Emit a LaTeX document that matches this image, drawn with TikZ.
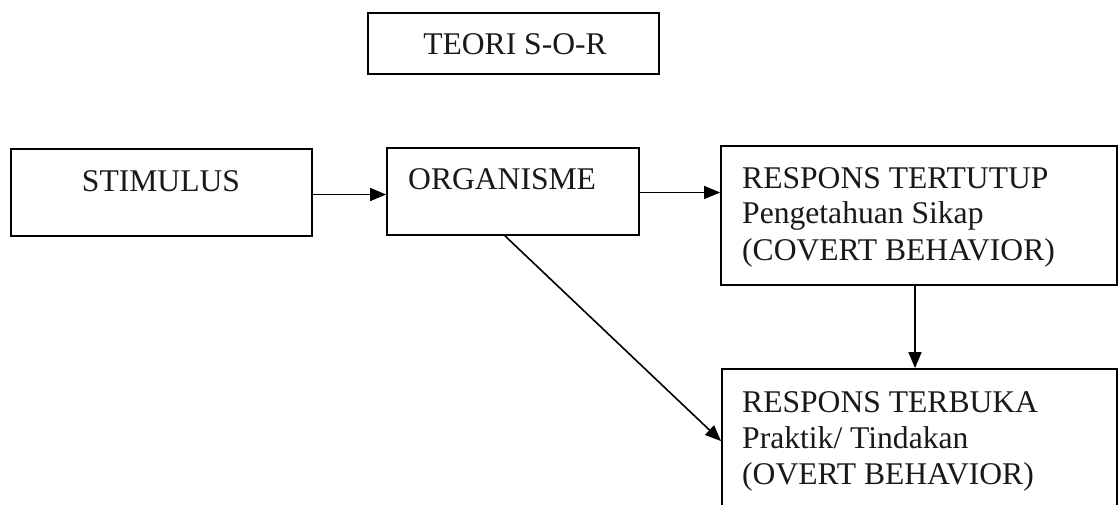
\documentclass[tikz,border=0pt]{standalone}
\usepackage{fontspec}
\setmainfont{Liberation Serif}
\usetikzlibrary{arrows.meta,calc}
\begin{document}
\begin{tikzpicture}[x=1pt,y=-1pt,
  box/.style={draw=black, line width=1.8pt, rectangle, inner sep=0pt, fill=none},
  lbl/.style={inner sep=0pt, text=black!90, font=\fontsize{31.6}{36}\selectfont},
  arr/.style={line width=1.6pt, -{Triangle[length=16pt,width=13pt]}}]
\useasboundingbox (0,0) rectangle (1119,505);
\fill[white] (0,0) rectangle (1119,505);
\begin{scope}
\clip (0,0) rectangle (1119,505);
\node[box, minimum width=291pt, minimum height=61pt] (title) at (513.5,43.5) {};
\node[box, minimum width=301pt, minimum height=87pt] (stim) at (161.5,192.5) {};
\node[box, minimum width=252pt, minimum height=87pt] (org) at (513,191.5) {};
\node[box, minimum width=396pt, minimum height=139pt] (rt) at (919,215.5) {};
\node[box, minimum width=395pt, minimum height=156pt] (rb) at (919.5,447) {};

\node[lbl, anchor=base] (tTitle) at (515,55) {TEORI S-O-R};
\node[lbl, anchor=base] (tStim) at (161,192) {STIMULUS};
\node[lbl, anchor=base west] (tOrg) at (408,190) {ORGANISME};
\node[lbl, anchor=base west, align=left] (tRt) at (742,260) {RESPONS TERTUTUP\\Pengetahuan Sikap\\(COVERT BEHAVIOR)};
\node[lbl, anchor=base west, align=left] (tRb) at (742,484) {RESPONS TERBUKA\\Praktik/ Tindakan\\(OVERT BEHAVIOR)};

\draw[arr] ([yshift=-2pt]stim.east) -- ([yshift=-2pt]stim.east -| org.west);
\draw[arr] ([yshift=-1pt]org.east) -- ([yshift=-1pt]org.east -| rt.west);
\draw[arr] ([xshift=-4pt]rt.south) -- ([xshift=-4pt]rt.south |- rb.north);
\draw[arr] ([xshift=-8pt]org.south) -- ([yshift=-73pt]rb.north west);
\end{scope}
\end{tikzpicture}
\end{document}
